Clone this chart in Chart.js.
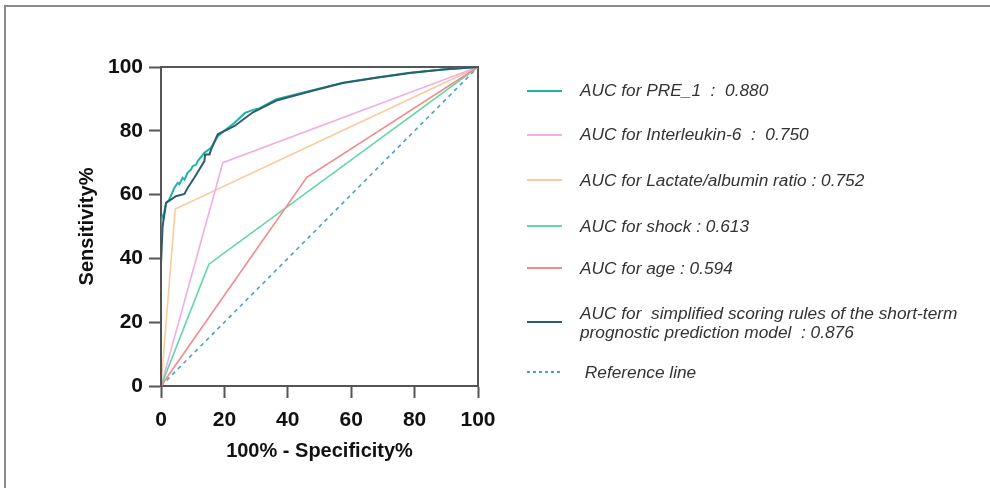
<!DOCTYPE html>
<html>
<head>
<meta charset="utf-8">
<title>ROC curves</title>
<script src="https://cdn.jsdelivr.net/npm/chart.js@4.4.1/dist/chart.umd.min.js"></script>
<style>
    html, body { margin: 0; padding: 0; background: #fff; }
    #wrap { position: relative; width: 990px; height: 488px; }
</style>
</head>
<body>
<div id="wrap"><canvas id="rocChart" width="990" height="488"></canvas></div>
<script>
// axis ticks (percent)
const tickValues = [0, 20, 40, 60, 80, 100];

// PRE_1 model
const pre1X = [0, 0, 0, 1, 1.6, 2.6, 4.2, 5.3, 5.8, 6.8, 7.4, 8.4, 9.5, 10, 11.1, 11.6, 13.7, 15.8, 17.9, 20.5, 23.2, 26.5, 29.5, 31, 36.4, 46.9, 57.4, 68, 78.5, 89, 100];
const pre1Y = [0, 39, 52, 54.3, 57.4, 58.4, 62.1, 63.7, 63.2, 65.3, 64.7, 66.8, 67.9, 68.9, 69.4, 70.5, 73.1, 74.7, 78.3, 80.4, 82.5, 85.6, 86.7, 87, 89.9, 92.5, 95.1, 96.7, 98.2, 99.2, 100];

// simplified scoring rules
const simpX = [0, 0, 0.5, 1.6, 4.7, 7.4, 8.4, 10.5, 13.7, 13.9, 15.3, 15.8, 17.9, 23.2, 29, 36.4, 46.9, 57.4, 68, 78.5, 89, 100];
const simpY = [0, 38, 50, 57.4, 59.5, 60.2, 62.1, 65.3, 70.5, 72.6, 72.6, 74.1, 78.9, 81.5, 85.8, 89.5, 92.3, 95, 96.6, 98.1, 99.2, 100];

// single-cutoff markers
const il6X = [0, 19.5, 100];
const il6Y = [0, 70, 100];
const lactX = [0, 4.5, 100];
const lactY = [0, 55.5, 100];
const shockX = [0, 15.1, 100];
const shockY = [0, 38.2, 100];
const ageX = [0, 46, 100];
const ageY = [0, 65.4, 100];
const refX = [0, 100];
const refY = [0, 100];

const legendText = [
    ["AUC for PRE_1  :  0.880"],
    ["AUC for Interleukin-6  :  0.750"],
    ["AUC for Lactate/albumin ratio : 0.752"],
    ["AUC for shock : 0.613"],
    ["AUC for age : 0.594"],
    ["AUC for  simplified scoring rules of the short-term", "prognostic prediction model  : 0.876"],
    [" Reference line"]
];

const FONT = "'Liberation Sans', Arial, Helvetica, sans-serif";

function toPoints(xs, ys) {
    return xs.map((x, i) => ({ x: x, y: ys[i] }));
}

function lineSet(label, xs, ys, color, width, order, dash) {
    return {
        label: label,
        data: toPoints(xs, ys),
        showLine: true,
        borderColor: color,
        backgroundColor: color,
        borderWidth: width,
        borderDash: dash || [],
        pointRadius: 0,
        pointHoverRadius: 0,
        tension: 0,
        fill: false,
        order: order
    };
}

const datasets = [
    lineSet(legendText[0].join(" "), pre1X, pre1Y, "#1fb3a2", 2, 2),
    lineSet(legendText[1].join(" "), il6X, il6Y, "#f0aee6", 1.6, 5),
    lineSet(legendText[2].join(" "), lactX, lactY, "#f9cc9e", 1.6, 6),
    lineSet(legendText[3].join(" "), shockX, shockY, "#62d6a4", 1.6, 4),
    lineSet(legendText[4].join(" "), ageX, ageY, "#f08c8c", 1.6, 3),
    lineSet(legendText[5].join(" "), simpX, simpY, "#2c5f6e", 2, 1),
    lineSet(legendText[6].join(" "), refX, refY, "#4f9bd2", 1.6, 7, [4, 4])
];

// outer frame, top/right plot frame and side legend
const decorPlugin = {
    id: "decor",
    beforeDraw(chart) {
        const ctx = chart.ctx;
        ctx.save();
        ctx.strokeStyle = "#8a8a8a";
        ctx.lineWidth = 2;
        ctx.beginPath();
        ctx.moveTo(5, 488);
        ctx.lineTo(5, 6);
        ctx.lineTo(990, 6);
        ctx.stroke();
        ctx.restore();
    },
    beforeDatasetsDraw(chart) {
        const { ctx, chartArea: a } = chart;
        ctx.save();
        ctx.strokeStyle = "#555";
        ctx.lineWidth = 2;
        ctx.beginPath();
        ctx.moveTo(a.left, a.top);
        ctx.lineTo(a.right, a.top);
        ctx.lineTo(a.right, a.bottom);
        ctx.stroke();
        ctx.restore();
    },
    afterDraw(chart, args, opts) {
        const ctx = chart.ctx;
        ctx.save();
        ctx.font = "italic " + opts.fontSize + "px " + FONT;
        ctx.fillStyle = "#333";
        ctx.textBaseline = "middle";
        chart.data.datasets.forEach((ds, i) => {
            const row = opts.rows[i];
            ctx.strokeStyle = ds.borderColor;
            ctx.lineWidth = 2;
            ctx.setLineDash(ds.borderDash.length ? [3, 3] : []);
            ctx.beginPath();
            ctx.moveTo(opts.sampleX0, row.sample);
            ctx.lineTo(opts.sampleX1, row.sample);
            ctx.stroke();
            ctx.setLineDash([]);
            legendText[i].forEach((line, j) => {
                ctx.fillText(line, opts.textX, row.text[j]);
            });
        });
        ctx.restore();
    }
};

const ctx = document.getElementById("rocChart").getContext("2d");
new Chart(ctx, {
    type: "scatter",
    data: { datasets: datasets },
    options: {
        responsive: false,
        animation: false,
        events: [],
        layout: {
            padding: { top: 67, right: 512, bottom: 0, left: 0 }
        },
        plugins: {
            legend: { display: false },
            tooltip: { enabled: false },
            decor: {
                fontSize: 17.3,
                sampleX0: 527,
                sampleX1: 562,
                textX: 580,
                rows: [
                    { sample: 91, text: [91] },
                    { sample: 135, text: [135] },
                    { sample: 180, text: [181] },
                    { sample: 226, text: [227] },
                    { sample: 268, text: [269] },
                    { sample: 322, text: [314, 333] },
                    { sample: 372, text: [373] }
                ]
            }
        },
        scales: {
            x: {
                type: "linear",
                min: 0,
                max: 100,
                afterBuildTicks: (s) => { s.ticks = tickValues.map(v => ({ value: v })); },
                afterFit: (s) => { s.height = 102; },
                ticks: {
                    color: "#111",
                    padding: 10,
                    maxRotation: 0,
                    font: { family: FONT, size: 21, weight: "bold" }
                },
                grid: {
                    drawOnChartArea: false,
                    drawTicks: true,
                    tickLength: 12,
                    tickWidth: 2,
                    color: "#555"
                },
                border: { display: true, color: "#555", width: 2 },
                title: {
                    display: true,
                    text: "100% - Specificity%",
                    color: "#111",
                    font: { family: FONT, size: 20, weight: "bold" },
                    padding: { top: 0, bottom: 25 }
                }
            },
            y: {
                type: "linear",
                min: 0,
                max: 100,
                afterBuildTicks: (s) => { s.ticks = tickValues.map(v => ({ value: v })); },
                afterFit: (s) => { s.width = 161; },
                ticks: {
                    color: "#111",
                    padding: 6,
                    font: { family: FONT, size: 21, weight: "bold" }
                },
                grid: {
                    drawOnChartArea: false,
                    drawTicks: true,
                    tickLength: 12,
                    tickWidth: 2,
                    color: "#555"
                },
                border: { display: true, color: "#555", width: 2 },
                title: {
                    display: true,
                    text: "Sensitivity%",
                    color: "#111",
                    font: { family: FONT, size: 20, weight: "bold" },
                    padding: { top: 75, bottom: 0 }
                }
            }
        }
    },
    plugins: [decorPlugin]
});
</script>
</body>
</html>
